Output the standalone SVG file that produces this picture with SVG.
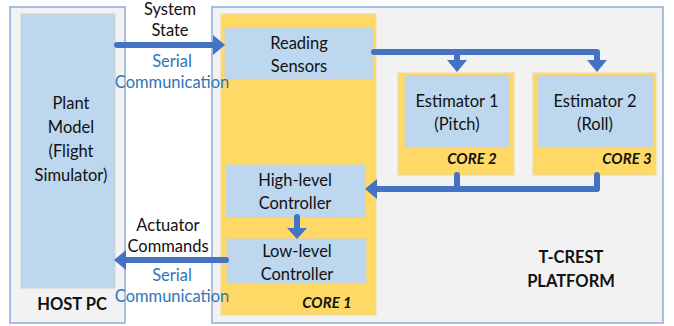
<svg xmlns="http://www.w3.org/2000/svg" width="674" height="326" viewBox="0 0 674 326">
<style>
.frame{fill:#F2F2F2;stroke:#8FAADC;stroke-width:1.5}
.core{fill:#FFD966;stroke:#E8D9A8;stroke-width:1}
.blk{fill:#BDD7EE;stroke:#D0D0D0;stroke-width:1}
.t{font-family:Lato,"Liberation Sans",Arial,sans-serif;font-size:16.5px;fill:#111;text-anchor:middle}
.s{fill:#2E75B6}
.b{font-weight:bold}
.ci{font-weight:bold;font-style:italic;font-size:15px}
.ln{fill:none;stroke:#4472C4;stroke-width:6;stroke-linecap:round;stroke-linejoin:round}
.ah{fill:#4472C4}
</style>
<g id="host-pc">
<rect class="frame" x="10" y="7" width="115" height="316"/>
<text class="t b" x="72" y="310">HOST PC</text>
</g>
<g id="plant-model">
<rect class="blk" x="21" y="14" width="94" height="274"/>
<text class="t" x="71" y="109">Plant</text>
<text class="t" x="71" y="133">Model</text>
<text class="t" x="71" y="157">(Flight</text>
<text class="t" x="71" y="181">Simulator)</text>
</g>
<g id="t-crest-platform">
<rect class="frame" x="212" y="7" width="451" height="316"/>
<text class="t b" x="571" y="263">T-CREST</text>
<text class="t b" x="571" y="287">PLATFORM</text>
</g>
<g id="core1">
<rect class="core" x="221" y="14" width="155" height="301"/>
<text class="t ci" x="327" y="308">CORE 1</text>
</g>
<g id="reading-sensors">
<rect class="blk" x="225" y="28" width="148" height="51"/>
<text class="t" x="299" y="49">Reading</text>
<text class="t" x="299" y="72">Sensors</text>
</g>
<g id="high-level-controller">
<rect class="blk" x="226" y="165" width="139" height="52"/>
<text class="t" x="295" y="186">High-level</text>
<text class="t" x="295" y="209">Controller</text>
</g>
<g id="low-level-controller">
<rect class="blk" x="227" y="239" width="139" height="44"/>
<text class="t" x="297" y="257">Low-level</text>
<text class="t" x="297" y="280">Controller</text>
</g>
<g id="core2">
<rect class="core" x="398" y="73" width="116" height="102"/>
<text class="t ci" x="472" y="164">CORE 2</text>
</g>
<g id="estimator1">
<rect class="blk" x="405" y="76" width="104" height="71"/>
<text class="t" x="457" y="107">Estimator 1</text>
<text class="t" x="457" y="130">(Pitch)</text>
</g>
<g id="core3">
<rect class="core" x="533" y="73" width="123" height="102"/>
<text class="t ci" x="627" y="164">CORE 3</text>
</g>
<g id="estimator2">
<rect class="blk" x="538" y="76" width="115" height="71"/>
<text class="t" x="595" y="107">Estimator 2</text>
<text class="t" x="595" y="130">(Roll)</text>
</g>
<g id="labels">
<text class="t" x="170" y="15">System</text>
<text class="t" x="170" y="36">State</text>
<text class="t s" x="172" y="67">Serial</text>
<text class="t s" x="172" y="88">Communication</text>
<text class="t" x="168" y="231">Actuator</text>
<text class="t" x="168" y="252">Commands</text>
<text class="t s" x="172" y="281">Serial</text>
<text class="t s" x="172" y="302">Communication</text>
</g>
<g id="connectors">
<path class="ln" d="M117,45 H214"/>
<polygon class="ah" points="225,45 213,35 213,55"/>
<path class="ln" d="M374,52 H597 M457,52 V60 M597,52 V60"/>
<polygon class="ah" points="457,72 447,60 467,60"/>
<polygon class="ah" points="597,72 587,60 607,60"/>
<path class="ln" d="M457,175 V189 M597,175 V189 H377"/>
<polygon class="ah" points="365,189 377,179 377,199"/>
<path class="ln" d="M297,217 V228"/>
<polygon class="ah" points="297,239 287,228 307,228"/>
<path class="ln" d="M226,260 H126"/>
<polygon class="ah" points="114,260 126,250 126,270"/>
</g>
</svg>
